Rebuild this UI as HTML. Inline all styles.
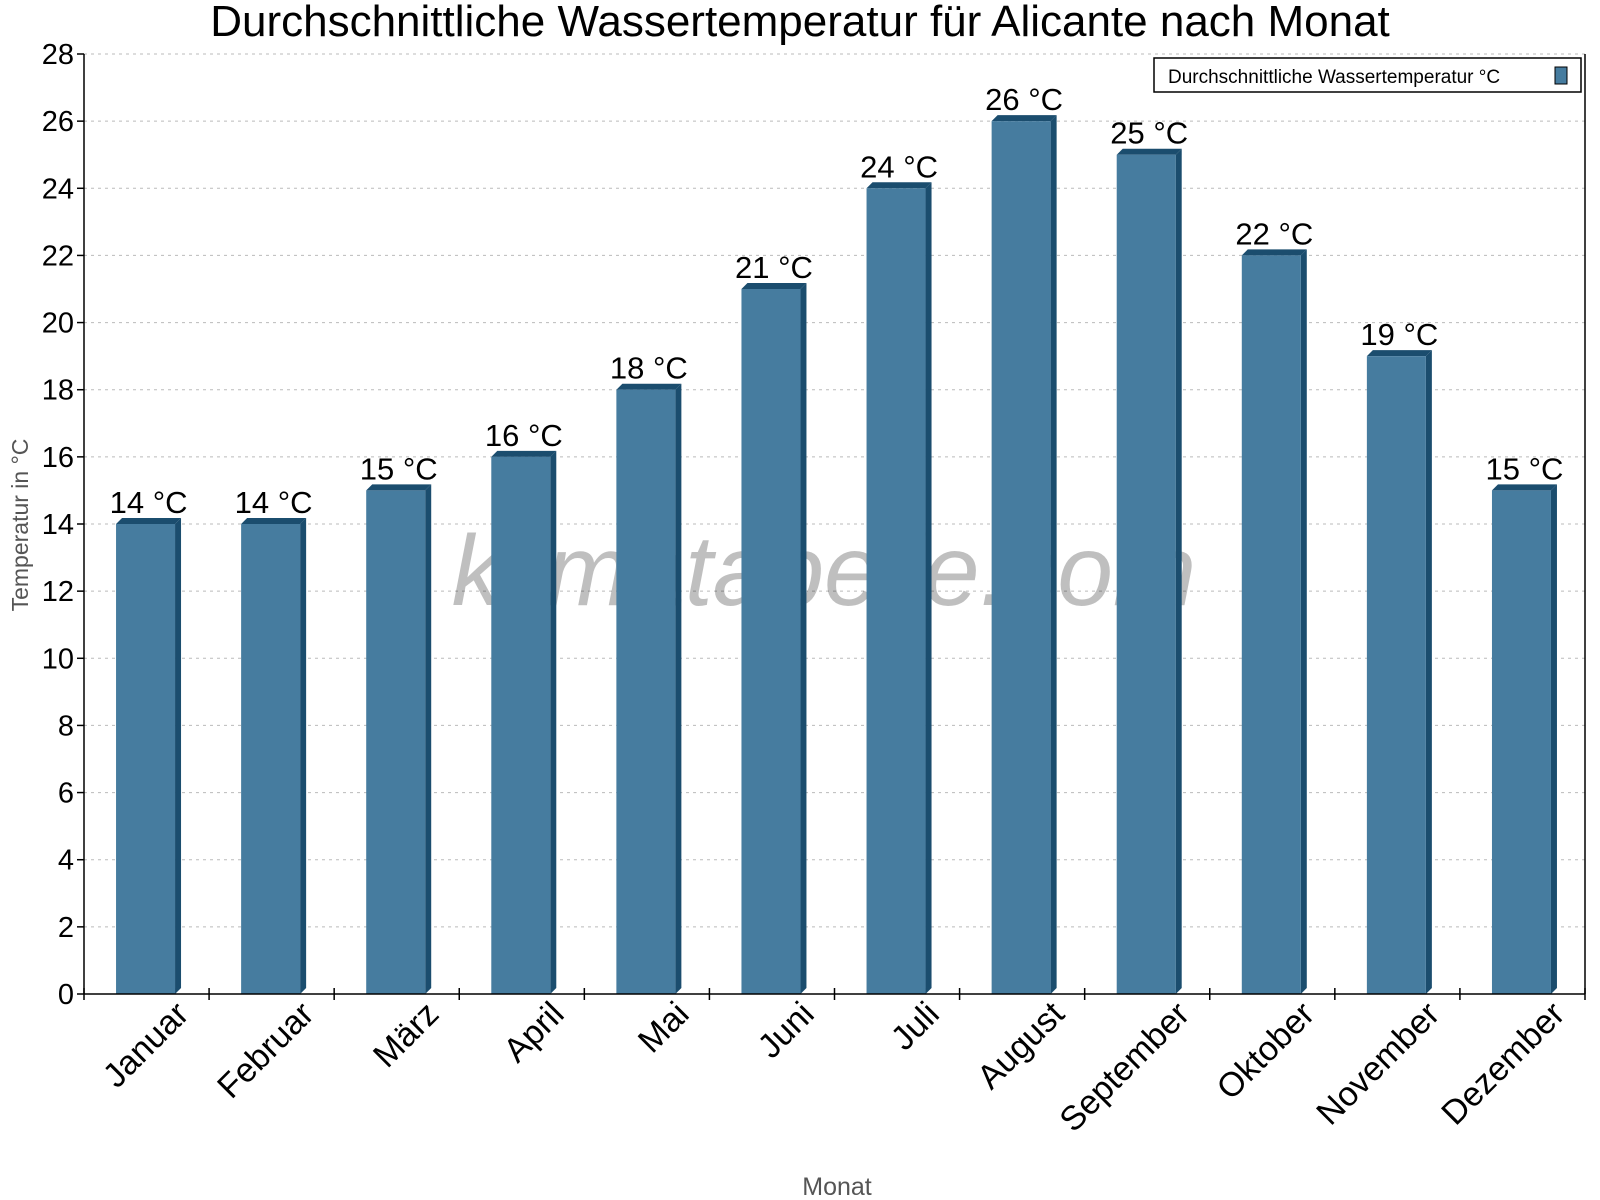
<!DOCTYPE html>
<html><head><meta charset="utf-8"><style>
html,body{margin:0;padding:0;background:#fff;}
svg{display:block;font-family:"Liberation Sans",Arial,sans-serif;}
</style></head><body>
<svg id="chart" width="1600" height="1200" viewBox="0 0 1600 1200">
<text x="800" y="36" text-anchor="middle" font-size="44" fill="#000">Durchschnittliche Wassertemperatur für Alicante nach Monat</text>
<g id="grid"></g>
<text x="824" y="605" text-anchor="middle" font-size="100" font-style="italic" font-weight="300" fill="#000" fill-opacity="0.25">klimatabelle.com</text>
<g id="bars"></g>
<g id="axes"></g>
<text transform="translate(28,525) rotate(-90)" text-anchor="middle" font-size="23" fill="#555">Temperatur in °C</text>
<text x="837" y="1195" text-anchor="middle" font-size="25" fill="#555">Monat</text>
<g>
<rect x="1154" y="58" width="427" height="34" fill="#fff" stroke="#000" stroke-width="1.5"/>
<text x="1168" y="83" font-size="19" fill="#000">Durchschnittliche Wassertemperatur °C</text>
<rect x="1555" y="67" width="12" height="17" fill="#467c9f" stroke="#000" stroke-width="1"/>
</g>
</svg>
<script>
const categories=["Januar","Februar","März","April","Mai","Juni","Juli","August","September","Oktober","November","Dezember"];
const values=[14,14,15,16,18,21,24,26,25,22,19,15];
const yTicks=[0,2,4,6,8,10,12,14,16,18,20,22,24,26,28];
const NS="http://www.w3.org/2000/svg";
const L=84,R=1585,T=54,B=994,YMAX=28;
const band=(R-L)/categories.length;
function y(v){return B-(v/YMAX)*(B-T);}
function xc(i){return L+band*i+band/2;}
function mk(tag,attrs,parent){const e=document.createElementNS(NS,tag);for(const k in attrs)e.setAttribute(k,attrs[k]);parent.appendChild(e);return e;}
const grid=document.getElementById('grid'),bars=document.getElementById('bars'),axes=document.getElementById('axes');
yTicks.forEach(t=>{
  if(t>0){const g=mk('line',{x1:L,x2:R,y1:y(t),y2:y(t),stroke:'#bbb','stroke-dasharray':'3,4','stroke-width':1},grid);
  
  }
  const tk=mk('line',{x1:L-7,x2:L,y1:y(t),y2:y(t),stroke:'#000','stroke-width':1.5},axes);
  
  
  const tl=mk('text',{x:L-10,y:y(t)+10,'text-anchor':'end','font-size':29,fill:'#000'},axes);
  tl.textContent=t;
  
  
});
const bw=59,d=6;
values.forEach((v,i)=>{
  const x0=xc(i)-bw/2-1,top=y(v);
  const g=mk('g',{},bars);
  
  
  const side=mk('polygon',{points:`${x0+bw},${top} ${x0+bw+d},${top-d} ${x0+bw+d},${B-d} ${x0+bw},${B}`,fill:'#1b4d6e'},g);
  
  
  const cap=mk('polygon',{points:`${x0},${top} ${x0+d},${top-d} ${x0+bw+d},${top-d} ${x0+bw},${top}`,fill:'#1b4d6e'},g);
  
  
  const f=mk('rect',{x:x0,y:top,width:bw,height:B-top,fill:'#467c9f'},g);
  
  
  const lb=mk('text',{x:xc(i)+2,y:top-11,'text-anchor':'middle','font-size':31,fill:'#000'},bars);
  lb.textContent=v+' °C';
  
  
  const xl=mk('text',{transform:`translate(${xc(i)+44},1016) rotate(-45)`,'text-anchor':'end','font-size':34,fill:'#000'},axes);
  xl.textContent=categories[i];
  
  
});
for(let i=0;i<=categories.length;i++){
  const xx=L+band*i;
  const tk=mk('line',{x1:xx,x2:xx,y1:B-6,y2:B+6,stroke:'#000','stroke-width':1.5},axes);
  
  
}
const ya=mk('line',{x1:L,x2:L,y1:T,y2:B,stroke:'#000','stroke-width':1.5},axes);


const yr=mk('line',{x1:R,x2:R,y1:T,y2:B,stroke:'#000','stroke-width':1.5},axes);


const xa=mk('line',{x1:L,x2:R,y1:B,y2:B,stroke:'#000','stroke-width':1.5},axes);


</script>
</body></html>
